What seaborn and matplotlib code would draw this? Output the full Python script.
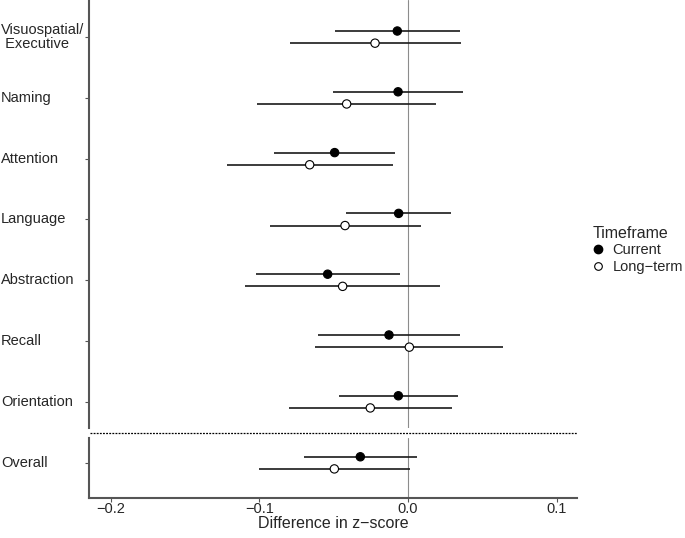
import numpy as np
import pandas as pd
import matplotlib.pyplot as plt
import matplotlib.transforms as mtransforms
from matplotlib.lines import Line2D
import seaborn as sns

sns.set_style("white")
plt.rcParams["font.family"] = ["Liberation Sans", "DejaVu Sans"]
plt.rcParams["axes.unicode_minus"] = True

# ── data ────────────────────────────────────────────────────────────────────
domains = ["Visuospatial/\n Executive", "Naming", "Attention", "Language",
           "Abstraction", "Recall", "Orientation", "Overall"]
timeframes = ["Current", "Long\u2212term"]

cur_est = [-0.0072, -0.0067, -0.0494, -0.0063, -0.0541, -0.0128, -0.0065, -0.0321]
cur_lo  = [-0.0490, -0.0505, -0.0902, -0.0418, -0.1026, -0.0606, -0.0467, -0.0700]
cur_hi  = [ 0.0348,  0.0370, -0.0085,  0.0292, -0.0054,  0.0352,  0.0337,  0.0058]

lt_est  = [-0.0222, -0.0413, -0.0662, -0.0424, -0.0440,  0.0009, -0.0254, -0.0496]
lt_lo   = [-0.0795, -0.1015, -0.1219, -0.0931, -0.1095, -0.0624, -0.0799, -0.1003]
lt_hi   = [ 0.0357,  0.0186, -0.0103,  0.0085,  0.0218,  0.0638,  0.0298,  0.0011]

x_ticks = [-0.2, -0.1, 0.0, 0.1]

# long table; "Overall" goes into its own bottom panel
rows = []
for i, d in enumerate(domains):
    panel = "bottom" if d == "Overall" else "top"
    idx = 0 if panel == "bottom" else i
    for tf, est, lo, hi, off in [(timeframes[0], cur_est, cur_lo, cur_hi, -0.1),
                                 (timeframes[1], lt_est, lt_lo, lt_hi, 0.1)]:
        rows.append(dict(domain=d, timeframe=tf, est=est[i], lo=lo[i], hi=hi[i],
                         panel=panel, idx=idx, pos=idx + off))
df = pd.DataFrame(rows)

# ── figure ──────────────────────────────────────────────────────────────────
W, H = 685, 538
fig = plt.figure(figsize=(W / 100, H / 100), dpi=100)
left, right = 89 / W, 577 / W
ax_top = fig.add_axes([left, 1 - 428 / H, right - left, 428 / H])
ax_bot = fig.add_axes([left, 1 - 498 / H, right - left, 60 / H])

spine_col = "#555555"
palette = {timeframes[0]: "black", timeframes[1]: "white"}
xlim = (-0.2148, 0.1138)

for ax, panel, ylim in [(ax_top, "top", (6.43, -0.61)), (ax_bot, "bottom", (0.58, -0.41))]:
    sub = df[df["panel"] == panel]
    ax.axvline(0, color="#8c8c8c", lw=0.8, zorder=1)
    ax.hlines(sub["pos"], sub["lo"], sub["hi"], color="#1a1a1a", lw=1.2, zorder=2)
    sns.scatterplot(data=sub, x="est", y="pos", hue="timeframe", palette=palette,
                    edgecolor="black", linewidth=0.8, s=36, legend=False,
                    zorder=3, ax=ax)
    ax.set_xlim(*xlim)
    ax.set_ylim(*ylim)
    ax.set_ylabel("")
    ax.set_xlabel("")
    for s in ["top", "right"]:
        ax.spines[s].set_visible(False)
    ax.spines["left"].set_color(spine_col)
    ax.spines["left"].set_linewidth(1.5)
    ticks = sorted(sub["idx"].unique())
    ax.set_yticks(ticks)
    ax.set_yticklabels([])
    ax.tick_params(axis="y", left=True, length=3, width=0.8, color=spine_col)
    # left-aligned category labels at the figure edge
    trans = mtransforms.blended_transform_factory(fig.transFigure, ax.transData)
    for t in ticks:
        name = sub.loc[sub["idx"] == t, "domain"].iloc[0]
        ax.text(1 / W, t, name, transform=trans, ha="left", va="center",
                fontsize=10.5, linespacing=1.05)

ax_top.spines["bottom"].set_visible(False)
ax_top.set_xticks([])
ax_bot.spines["bottom"].set_color(spine_col)
ax_bot.spines["bottom"].set_linewidth(1.5)
ax_bot.set_xticks(x_ticks)
ax_bot.set_xticklabels([f"{v:.1f}".replace("-", "\u2212") for v in x_ticks], fontsize=10.5)
ax_bot.tick_params(axis="x", bottom=True, length=3, width=0.8, color=spine_col, pad=0)
ax_bot.set_xlabel("Difference in z\u2212score", fontsize=11.5, labelpad=0)

# dotted separator between the two panels
fig.add_artist(Line2D([90 / W, right], [1 - 433 / H] * 2, transform=fig.transFigure,
                      color="black", lw=0.9, ls=(0, (1.5, 1))))

# legend
handles = [Line2D([], [], ls="", marker="o", markersize=6, markerfacecolor="black",
                  markeredgecolor="black"),
           Line2D([], [], ls="", marker="o", markersize=5.5, markerfacecolor="white",
                  markeredgecolor="black", markeredgewidth=0.8)]
leg = fig.legend(handles, timeframes, title="Timeframe", loc="upper left",
                 bbox_to_anchor=(585 / W, 1 - 219 / H), frameon=False,
                 fontsize=10.5, title_fontsize=11.5, handlelength=0.8,
                 handletextpad=0.6, labelspacing=0.15, borderpad=0)
leg._legend_box.align = "left"

fig.savefig("out.png", dpi=100)
